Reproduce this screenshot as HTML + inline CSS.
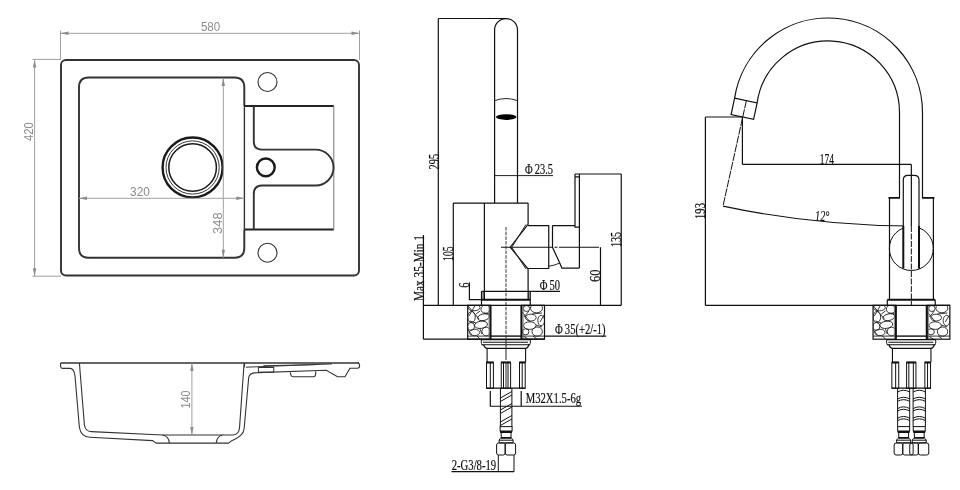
<!DOCTYPE html>
<html><head><meta charset="utf-8">
<style>
html,body{margin:0;padding:0;background:#fff;width:960px;height:490px;overflow:hidden}
svg{display:block;will-change:transform}
.d{fill:none;stroke:#333;stroke-width:1.9}
.t{fill:none;stroke:#222;stroke-width:1}
.k{fill:none;stroke:#111;stroke-width:1.2}
.kk{fill:none;stroke:#111;stroke-width:2}
.g{fill:none;stroke:#a0a0a0;stroke-width:1}
.ga{fill:#8a8a8a;stroke:none}
.ka{fill:#111;stroke:none}
.gt{font-family:"Liberation Sans",sans-serif;font-size:12.5px;fill:#8c8c8c}
.st{font-family:"Liberation Serif",serif;font-size:14px;fill:#111;stroke:#111;stroke-width:0.2}
.pb{fill:none;stroke:#222;stroke-width:0.9}
.cl{fill:none;stroke:#222;stroke-width:1;stroke-dasharray:7 2 1.5 2}
</style></head><body>
<svg width="960" height="490" viewBox="0 0 960 490">
<!-- ===== Top view sink ===== -->
<g id="topview">
  <rect class="d" x="61" y="60" width="298" height="215.5" rx="5"/>
  <path class="d" d="M244.3 106 V87.5 Q244.3 77.5 234.5 77.5 H88.5 Q79 77.5 79 87.5 V248 Q79 257.75 88.5 257.75 H234.5 Q244.3 257.75 244.3 248 V229.5"/>
  <circle fill="none" stroke="#333" stroke-width="1.1" cx="267.5" cy="82" r="9.5"/>
  <circle fill="none" stroke="#333" stroke-width="1.1" cx="267.5" cy="252.75" r="9.5"/>
  <circle cx="192.6" cy="167.5" r="30" fill="none" stroke="#1a1a1a" stroke-width="2.4"/>
  <circle cx="192.6" cy="167.5" r="26.6" fill="none" stroke="#333" stroke-width="1"/>
  <circle cx="192.6" cy="167.5" r="23.8" fill="none" stroke="#1a1a1a" stroke-width="1.5"/>
  <path d="M244.3 106 H333.8 M244.3 229.5 H333.8" fill="none" stroke="#222" stroke-width="1.8"/>
  <path d="M244.4 106 V229.5" fill="none" stroke="#333" stroke-width="1.4"/>
  <path d="M333.8 106 V229.5" fill="none" stroke="#777" stroke-width="1"/>
  <path class="d" d="M253.8 106 V141.5 Q253.8 149.6 262 149.6 H315.6 A17.95 17.95 0 0 1 315.6 185.5 H262 Q253.8 185.5 253.8 194 V229.5"/>
  <circle cx="265.8" cy="167.4" r="8.9" fill="none" stroke="#1a1a1a" stroke-width="2.4"/>
  <!-- dims -->
  <path class="g" d="M60.5 30.5 V60 M359.5 30.5 V60 M60.5 33.3 H359.5"/>
  <path class="ga" d="M60.5 33.3 l8 -1.7 v3.4z M359.5 33.3 l-8 -1.7 v3.4z"/>
  <path class="g" d="M32.5 59.4 H61 M32.5 276.2 H61 M34.6 59.4 V276.2"/>
  <path class="ga" d="M34.6 59.4 l-1.7 8 h3.4z M34.6 276.2 l-1.7 -8 h3.4z"/>
  <path class="g" d="M79 198.3 H244.3 M223.3 78 V257.75"/>
  <path class="ga" d="M79 198.3 l8 -1.7 v3.4z M244.3 198.3 l-8 -1.7 v3.4z M223.3 78 l-1.7 8 h3.4z M223.3 257.75 l-1.7 -8 h3.4z"/>
  <text class="gt" x="200.9" y="30.8" textLength="19.3" lengthAdjust="spacingAndGlyphs">580</text>
  <text class="gt" x="130.1" y="195.9" textLength="19.8" lengthAdjust="spacingAndGlyphs">320</text>
  <text class="gt" transform="translate(32.6,141) rotate(-90)" textLength="18.9" lengthAdjust="spacingAndGlyphs">420</text>
  <text class="gt" transform="translate(222,233.9) rotate(-90)" textLength="21.5" lengthAdjust="spacingAndGlyphs">348</text>
</g>
<!-- ===== Profile ===== -->
<g id="profile">
  <path d="M60.6 363 H359" fill="none" stroke="#333" stroke-width="1.6"/>
  <path fill="none" stroke="#333" stroke-width="1.1" d="M60.6 363 V366.5 Q60.6 368.4 62.5 368.4 H70 Q74 368.4 75 376 L79.4 427.5 Q81 437 90 437.25 L152.5 440.6 L156.25 443.1 H228.5 L231.25 440.9 Q243.5 436 244.1 429 L248.7 377.5 Q249.5 372.6 258 372.6 L326.25 370.2 L337.5 376.7 H345 L349.9 368.3 H357.5 Q359.6 368.3 359.6 365.6 Q359.6 363 357.5 363"/>
  <path fill="none" stroke="#333" stroke-width="1.1" d="M290.2 372.3 L290.8 374.8 Q291.4 376.7 293.6 376.7 H313.4 Q315.4 376.7 315.6 374.6 L315.8 371.4"/>
  <path fill="none" stroke="#333" stroke-width="1.1" d="M79.4 363 L84.4 425 Q85.5 431.6 91.25 431.6 L162.5 435 H233 Q239 434.4 239.5 428 L244.1 363"/>
  <path fill="none" stroke="#333" stroke-width="1.1" d="M162.5 435 Q168.75 436 169.4 443.1 M216.25 443.1 Q217 436 222.5 435"/>
  <path fill="none" stroke="#333" stroke-width="1" d="M244.6 363 V367.5 M246 367.2 L332 363.9 M263.5 365.75 L316 364.6"/>
  <rect x="258.4" y="367.5" width="15.35" height="4.7" fill="none" stroke="#333" stroke-width="1"/>
  <path class="g" d="M191.9 363 V435"/>
  <path class="ga" d="M191.9 363 l-1.7 8 h3.4z M191.9 435 l-1.7 -8 h3.4z"/>
  <text class="gt" transform="translate(189.6,408.6) rotate(-90)" textLength="18" lengthAdjust="spacingAndGlyphs">140</text>
</g>

<!-- ===== Middle faucet ===== -->
<defs>
  <clipPath id="cpL"><rect x="-38.3" y="305.3" width="22.9" height="33.9"/></clipPath>
  <clipPath id="cpR"><rect x="15.6" y="305.3" width="22.9" height="33.9"/></clipPath>

  <g id="fit">
    <g fill="none" stroke="#111" stroke-width="1">
      <rect x="-6" y="426.6" width="12" height="4.4"/>
      <rect x="-4.9" y="432" width="9.8" height="5.6"/>
      <path d="M-5.6 438.3 L-7 440 V442.8 H7 V440 L5.6 438.3 M-7 440.2 H7"/>
      <path d="M-9.5 445 Q-9.5 443 -7.5 443 H-2.9 Q-0.9 443 -0.9 445 V453 Q-0.9 455 -2.9 455 H-7.5 Q-9.5 455 -9.5 453 Z"/>
      <path d="M-0.9 445 Q-0.9 443 1.1 443 H7.5 Q9.5 443 9.5 445 V453 Q9.5 455 7.5 455 H1.1 Q-0.9 455 -0.9 453 Z"/>
    </g>
    <path d="M-6 432 H6 M-5.3 437.9 H5.3" fill="none" stroke="#111" stroke-width="1.8"/>
  </g>
  <g id="base">
    <!-- pebble blocks (coords relative to center x=0) -->
    <rect x="-38.3" y="305.3" width="22.9" height="33.9" fill="none" stroke="#111" stroke-width="1.2"/>
    <rect x="15.6" y="305.3" width="22.9" height="33.9" fill="none" stroke="#111" stroke-width="1.2"/>
    <g clip-path="url(#cpL)" class="pb">
      <ellipse cx="-32" cy="307.6" rx="6" ry="3.2"/>
      <ellipse cx="-20.5" cy="309.2" rx="4.5" ry="4.2"/>
      <path d="M-37.5 306.5 L-27 319 M-31 305.5 L-37 316 M-26 311 L-30 314 M-16 314 L-22 313"/>
      <ellipse cx="-22.5" cy="317.2" rx="6" ry="3.3" transform="rotate(-12 -22.5 317.2)"/>
      <ellipse cx="-34.5" cy="317" rx="3.8" ry="5.5"/>
      <ellipse cx="-25" cy="324.8" rx="6.5" ry="3.6" transform="rotate(-8 -25 324.8)"/>
      <ellipse cx="-35" cy="326.5" rx="3.5" ry="4"/>
      <ellipse cx="-31.5" cy="332.4" rx="5.2" ry="3.2"/>
      <ellipse cx="-19.8" cy="331.5" rx="4.3" ry="4.3"/>
      <path d="M-36 321 L-30 323 M-26 329 L-24 334 M-38 330 L-34 335 M-29 336 L-26 339"/>
      <path d="M-38.3 336.1 H-15.4"/>
    </g>
    <g clip-path="url(#cpR)" class="pb">
      <ellipse cx="30.5" cy="308.2" rx="6" ry="4.6"/>
      <ellipse cx="20.5" cy="308.5" rx="3.2" ry="3"/>
      <path d="M16 312 L24 322 M18 317 L23 311 M26 314 L36 313 M38 315 L34 322"/>
      <ellipse cx="24.8" cy="317.6" rx="5.4" ry="3.4"/>
      <ellipse cx="35.2" cy="320.5" rx="3.4" ry="5.2"/>
      <ellipse cx="23.8" cy="325.6" rx="6.2" ry="3.8"/>
      <ellipse cx="31.2" cy="331.6" rx="5.2" ry="4.6"/>
      <ellipse cx="19.5" cy="331.8" rx="3.5" ry="3"/>
      <path d="M30 325 L36 327 M17 336 L22 339 M27 336 L31 339"/>
      <path d="M15.6 336.1 H38.5"/>
    </g>
    <path d="M-15.6 305.3 V339.2 M15.4 305.3 V339.2" fill="none" stroke="#111" stroke-width="2"/>
    <path d="M-17 305.3 V339.2 M17.2 305.3 V339.2" fill="none" stroke="#777" stroke-width="0.8"/>
    <path d="M-15.6 336.1 H15.4" fill="none" stroke="#111" stroke-width="1.4"/>
    <!-- washer -->
    <path d="M-24.6 339.6 H24.3 M-23 342.2 H22 M-24.6 344.8 H24.3" fill="none" stroke="#111" stroke-width="1.1"/>
    <path d="M-24.6 339.6 Q-25.3 344.8 -23 344.8 M24.3 339.6 Q25 344.8 22.5 344.8" fill="none" stroke="#111" stroke-width="1"/>
    <path d="M-22.5 344.8 Q-21 348.4 -18.9 348.4 H19.6 Q21.7 348.4 23 344.8" fill="none" stroke="#111" stroke-width="1.2"/>
    <path d="M-18.9 348.4 V362.3 M19.6 348.4 V362.3" fill="none" stroke="#111" stroke-width="1.1"/>
    <!-- connectors -->
    <g fill="none" stroke="#111" stroke-width="1">
      <rect x="-19.5" y="362.3" width="6.9" height="26"/>
      <rect x="-4.75" y="362.3" width="9.35" height="26"/>
      <rect x="13.5" y="362.3" width="5.7" height="26"/>
      <path d="M-15.7 362.3 V388.3 M-2.5 362.3 V388.3 M2 362.3 V388.3 M16.2 362.3 V388.3"/>
    </g>
    <path d="M-19.5 362.5 H-12.6 M-4.75 362.5 H4.6 M13.5 362.5 H19.2" fill="none" stroke="#111" stroke-width="1.8"/>
    <path d="M-19.5 388.2 H19.2" fill="none" stroke="#111" stroke-width="1.2"/>
  </g>
</defs>
<g id="faucetM">
  <use href="#base" transform="translate(506,0)"/>
  <!-- spout -->
  <path class="k" d="M438.3 18.5 H506"/>
  <path class="k" d="M494.6 203.1 V30 A11.45 11.45 0 0 1 517.5 30 V203.1"/>
  <path class="t" d="M494.6 100.6 Q506 96.5 517.5 100.6"/>
  <ellipse cx="506.2" cy="117.1" rx="10.3" ry="2.8" fill="#000"/>
  <!-- dim 295 -->
  <path class="k" d="M438.3 18.5 V305.3"/>
  <!-- phi 23.5 -->
  <path class="t" d="M494.6 175.6 H553.1"/>
  <!-- body -->
  <path class="k" d="M453.1 203.1 H528.1 M484.4 203.1 V299.3 M528.1 203.1 V224.4 L510.25 247.25 L528.1 269 V299.3"/>
  <path class="t" d="M526 224.4 L511.8 247.25 L526 269"/>
  <path class="k" d="M453.3 203.1 V305.3"/>
  <path class="k" d="M528.1 225.6 H548.75 V268.5 H528.1 M552.5 225.6 H575 M552.5 225.6 V247.25 L559.75 263.1 L561.9 268.1 H579.4"/>
  <path class="t" d="M548.75 266.25 Q554 265.5 559.75 263.1"/>
  <path class="k" d="M575 174 V227.1 H579.4 M579.4 174 V268.1 M575 174 H621.25 M575 176.9 H579.4"/>
  <path class="k" d="M621.25 174 V305.3"/>
  <path class="k" d="M600.5 247.25 V305.3"/>
  <path fill="none" stroke="#111" stroke-width="1.1" stroke-dasharray="52 1.5 3 1.5 40" d="M501 247.25 H600.5"/>
  <path fill="none" stroke="#333" stroke-width="1" stroke-dasharray="3.5 1.2" d="M506 227 V339"/>
  <path fill="none" stroke="#222" stroke-width="1" d="M506 339 V360 M506 362 V388"/>
  <!-- flange -->
  <path class="k" d="M481.5 291.3 H560 M481.5 291.3 V305.3 M530.25 291.3 V305.3"/>
  <path class="t" d="M483.1 291.3 V299.6 M528.75 291.3 V299.6"/>
  <path class="kk" d="M482 299.8 H530.5"/>
  <path class="k" d="M469.4 282.5 V299.6 H481.5"/>
  <!-- counter -->
  <path class="k" d="M423.4 235 V339.2 M423.4 305.3 H621.25 M423.4 339.2 H544.5 M544.5 336.1 H606.25"/>
  <!-- threaded rod -->
  <g fill="none" stroke="#111" stroke-width="1">
    <path d="M500.4 388.3 V426.6 M511.9 388.3 V426.6"/>
    <path d="M500.4 398 L511.9 391.5 M500.4 401.5 L511.9 395 M500.4 410 L511.9 403.5 M500.4 413.5 L511.9 407 M500.4 422 L511.9 415.5 M500.4 425.5 L511.9 419"/>
    <path d="M498.3 455 V471.7 M514 455 V471.7"/>
  </g>
  <use href="#fit" transform="translate(506.1,0)"/>
  <path class="k" d="M490.3 391 V406.25 M521.2 391 V406.25 M490 406.25 H581.9"/>
  <path class="k" d="M451.5 471.7 H514"/>
  <!-- texts -->
  <text class="st" transform="translate(438.8,169.5) rotate(-90)" font-size="15.5" textLength="15.6" lengthAdjust="spacingAndGlyphs">295</text>
  <text class="st" x="525" y="174.4" font-size="12" textLength="28" lengthAdjust="spacingAndGlyphs">Φ 23.5</text>
  <text class="st" transform="translate(453.3,261) rotate(-90)" textLength="14.7" lengthAdjust="spacingAndGlyphs">105</text>
  <text class="st" transform="translate(423.8,301) rotate(-90)" textLength="66" lengthAdjust="spacingAndGlyphs">Max  35-Min  1</text>
  <text class="st" transform="translate(469.4,287.8) rotate(-90)" textLength="5.3" lengthAdjust="spacingAndGlyphs">6</text>
  <text class="st" x="539.8" y="290.4" textLength="20.3" lengthAdjust="spacingAndGlyphs">Φ 50</text>
  <text class="st" transform="translate(600.3,282) rotate(-90)" font-size="15" textLength="12.5" lengthAdjust="spacingAndGlyphs">60</text>
  <text class="st" transform="translate(621.25,246.9) rotate(-90)" font-size="15" textLength="15" lengthAdjust="spacingAndGlyphs">135</text>
  <text class="st" x="555" y="334.4" textLength="50.6" lengthAdjust="spacingAndGlyphs">Φ 35(+2/-1)</text>
  <text class="st" x="525.7" y="402.6" textLength="55.5" lengthAdjust="spacingAndGlyphs">M32X1.5-6g</text>
  <text class="st" x="451.7" y="470.1" font-size="14.5" textLength="44.5" lengthAdjust="spacingAndGlyphs">2-G3/8-19</text>
</g>

<!-- ===== Right faucet ===== -->
<g id="faucetR">
  <use href="#base" transform="translate(911.35,0)"/>
  <!-- arc spout -->
  <path class="k" d="M734.59 98.18 A94.5 94.5 0 0 1 922.5 112.5 V197.5"/>
  <path class="k" d="M757.14 102.94 A71.5 71.5 0 0 1 899.5 112.5 V197.5"/>
  <path class="k" d="M734.59 98.18 L757.14 102.94 L753.6 119.3 L731.1 114.5 Z"/>
  <path fill="none" stroke="#111" stroke-width="1" stroke-dasharray="8 1" d="M746.4 100.5 L723 206.1"/>
  <path class="k" d="M705.4 117 H742.7 M705.4 117 V305.4 M742.4 117 V164.4 M742.4 164.4 H911.35"/>
  <path class="k" d="M723 206.1 A912 912 0 0 0 911.35 226"/>
  <!-- body -->
  <circle cx="911.35" cy="248.5" r="22" fill="none" stroke="#111" stroke-width="1"/>
  <path d="M903.3 268.75 V180 Q903.3 175.4 908 175.4 H914.3 Q919 175.4 919 180 V268.75 Z" fill="#fff" stroke="none"/>
  <path class="kk" d="M903.3 268.75 V226 M919 268.75 V226"/>
  <path class="k" d="M903.3 226 V180 Q903.3 175.4 908 175.4 H914.3 Q919 175.4 919 180 V226"/>
  <path class="k" d="M911.35 164.4 V226"/>
  <path fill="none" stroke="#111" stroke-width="1" stroke-dasharray="6 1.5" d="M911.35 226 V305"/>
  <path class="k" d="M889.5 299.7 V197.5 H899.5 M922.5 197.5 H933.4 V299.7"/>
  <path d="M888.5 197.8 H900 M922 197.8 H934.4" fill="none" stroke="#111" stroke-width="1.8"/>
  <path class="kk" d="M887.3 299.7 H935.2"/>
  <path class="k" d="M887.3 299.7 V305.4 M935.2 299.7 V305.4"/>
  <path class="k" d="M705.4 305.4 H950.1"/>
  <!-- hoses -->
  <g fill="none" stroke="#111" stroke-width="1">
    <path d="M897.6 388.1 V426.6 M909.7 388.1 V426.6 M913.1 388.1 V426.6 M925.4 388.1 V426.6"/>
    <path id="rib" d="M897.6 392 Q903.6 388.5 909.7 392 M913.1 392 Q919.2 388.5 925.4 392"/>
    <use href="#rib" y="7"/><use href="#rib" y="9.4"/>
    <use href="#rib" y="16.6"/><use href="#rib" y="19"/>
    <use href="#rib" y="26.2"/><use href="#rib" y="28.6"/>
  </g>
  <use href="#fit" transform="translate(903.65,0)"/>
  <use href="#fit" transform="translate(919.25,0)"/>
  <!-- texts -->
  <text class="st" x="819.7" y="164.2" font-size="14" textLength="14.2" lengthAdjust="spacingAndGlyphs">174</text>
  <text class="st" x="815.1" y="221.3" font-style="italic" font-size="13.5" textLength="14.2" lengthAdjust="spacingAndGlyphs">12°</text>
  <text class="st" transform="translate(705.3,219) rotate(-90)" font-size="14.5" textLength="16" lengthAdjust="spacingAndGlyphs">193</text>
</g>
</svg>
</body></html>
